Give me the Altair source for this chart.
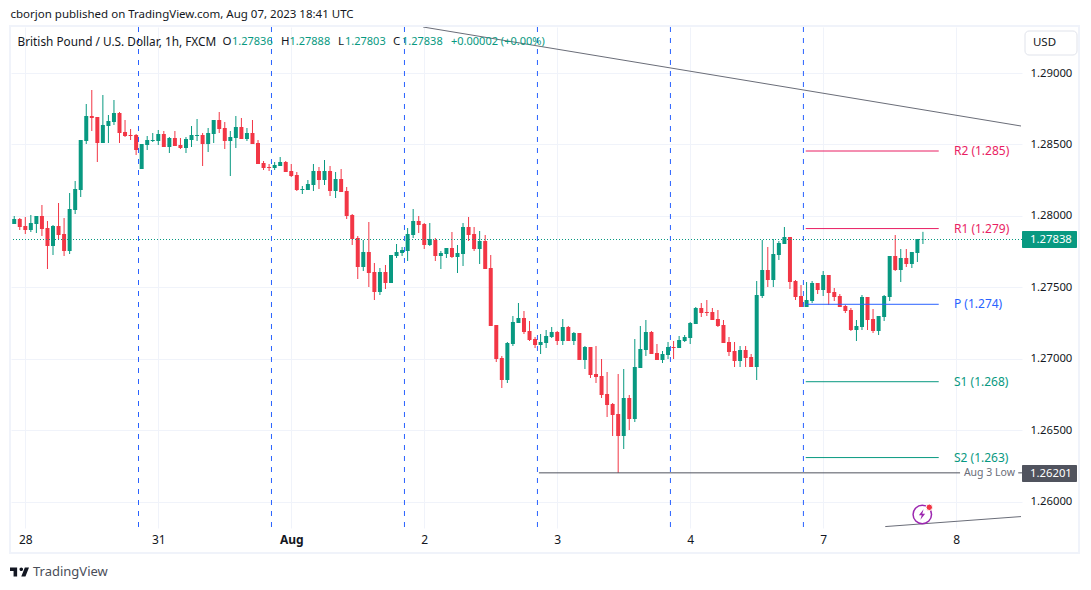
import altair as alt
import pandas as pd

# candle prices in 1e-5 USD, hourly, first candle is index -2 (22:00 before Jul 28)
opens = [127943,127978,127929,127901,127943,127999,127915,127789,127929,127873,
127754,128041,128181,128524,128699,128692,128510,128629,128657,128720,
128587,128566,128566,128328,128496,128524,128524,128573,128482,128545,
128496,128475,128531,128559,128566,128503,128573,128671,128615,128524,
128545,128622,128538,128580,128510,128370,128342,128335,128349,128377,
128314,128286,128181,128181,128216,128314,128251,128314,128174,128258,
128174,128006,127845,127642,127747,127607,127467,127607,127530,127719,
127740,127754,127866,127964,127943,127796,127831,127719,127733,127775,
127712,127733,127922,127873,127768,127824,127635,127236,127005,126851,
127103,127250,127285,127194,127138,127096,127110,127152,127187,127124,
127222,127124,127180,126991,127082,126893,126879,126753,126683,126613,
126459,126725,126578,126935,127061,127187,127040,126991,127026,127082,
127075,127124,127145,127243,127355,127327,127327,127278,127236,127117,
127054,126984,127061,127012,126942,127439,127621,127551,127726,127803,
127852,127544,127439,127362,127404,127530,127481,127586,127467,127439,
127369,127341,127201,127222,127432,127278,127194,127292,127432,127719,
127621,127705,127663,127740,127836]
highs = [127999,127985,127992,128006,127999,128076,127964,127936,128090,127985,
128160,128244,128531,128783,128881,128692,128846,128706,128811,128727,
128671,128608,128573,128503,128559,128580,128601,128594,128552,128594,
128545,128552,128629,128678,128580,128615,128671,128727,128657,128594,
128699,128685,128615,128671,128531,128384,128363,128377,128412,128384,
128363,128307,128209,128251,128363,128342,128391,128349,128307,128328,
128202,128013,127859,127831,127957,127670,127635,127656,127726,127803,
127782,127915,128048,127999,127950,127950,127845,127754,127775,127887,
127796,127950,127992,127922,127894,127866,127726,127236,127019,127117,
127299,127390,127334,127264,127152,127173,127201,127222,127194,127278,
127229,127187,127180,127089,127082,127089,126998,126907,126690,126893,
126928,126746,127138,127229,127271,127194,127103,127054,127117,127124,
127159,127166,127257,127362,127390,127411,127355,127341,127271,127152,
127117,127089,127089,127033,127544,127831,127782,127838,127824,127922,
127852,127551,127516,127537,127544,127530,127614,127586,127495,127453,
127376,127355,127271,127446,127432,127348,127299,127446,127719,127866,
127768,127768,127747,127838,127888]
lows = [127943,127901,127873,127887,127880,127859,127628,127726,127831,127719,
127733,128013,128132,128503,128594,128377,128510,128510,128636,128510,
128552,128531,128426,128328,128461,128517,128496,128482,128440,128489,
128468,128440,128482,128524,128349,128447,128510,128580,128468,128279,
128475,128538,128524,128503,128363,128321,128314,128321,128349,128307,
128272,128174,128153,128181,128174,128188,128216,128139,128125,128167,
127978,127796,127558,127614,127502,127411,127446,127488,127530,127705,
127719,127684,127845,127880,127768,127789,127684,127628,127705,127705,
127600,127649,127824,127754,127663,127628,127229,126977,126795,126830,
127089,127250,127173,127124,127075,127033,127075,127145,127096,127096,
127124,127096,126991,126928,126865,126830,126725,126592,126459,126201,
126368,126501,126557,126935,127019,127033,126991,126970,126998,126998,
127075,127117,127103,127243,127292,127299,127271,127222,127110,127019,
126942,126942,126942,126942,126851,127425,127502,127502,127691,127803,
127488,127411,127362,127362,127390,127453,127439,127376,127404,127362,
127320,127194,127124,127201,127201,127180,127166,127264,127404,127614,
127537,127642,127635,127677,127803]
closes = [127978,127922,127901,127950,127999,127908,127789,127929,127866,127754,
128048,128188,128531,128699,128685,128510,128636,128664,128720,128580,
128559,128559,128461,128503,128531,128531,128573,128482,128545,128489,
128475,128538,128566,128566,128503,128580,128671,128608,128524,128552,
128622,128538,128580,128503,128363,128335,128335,128356,128377,128307,
128279,128181,128188,128223,128314,128251,128314,128174,128258,128167,
127999,127838,127642,127747,127600,127467,127607,127530,127726,127747,
127761,127873,127964,127936,127796,127838,127719,127740,127775,127712,
127740,127922,127866,127768,127824,127628,127229,126998,126851,127110,
127257,127285,127187,127131,127096,127117,127159,127187,127124,127222,
127124,127180,126991,127082,126886,126872,126746,126676,126606,126459,
126725,126578,126942,127068,127187,127033,126991,127033,127082,127075,
127131,127152,127250,127355,127320,127320,127271,127229,127110,127047,
126984,127061,127005,126942,127446,127621,127551,127733,127810,127852,
127537,127432,127362,127411,127530,127481,127586,127460,127432,127362,
127334,127201,127229,127432,127271,127194,127299,127439,127719,127621,
127705,127663,127747,127838,127838]

x_ticks = [0, 24, 48, 72, 96, 120, 144, 168]
x_labels = ["28", "31", "Aug", "2", "3", "4", "7", "8"]
y_ticks = [1.26, 1.265, 1.27, 1.275, 1.28, 1.285, 1.29]
session_lines = [20.43, 44.43, 68.43, 92.43, 116.43, 140.43]

pivot_names = ["R2 (1.285)", "R1 (1.279)", "P (1.274)", "S1 (1.268)", "S2 (1.263)"]
pivot_prices = [1.28454, 1.27911, 1.27381, 1.26839, 1.26308]
pivot_colors = ["#e91e63", "#e91e63", "#2962ff", "#089981", "#089981"]

last_price = 1.27838
aug3_low = 1.26201

FONT = "Noto Sans"
TEAL = "#089981"
RED = "#f23645"
INK = "#131722"
FRAME = "#f0f3fa"

xs = alt.Scale(domain=[-2.581, 179.88], nice=False, zero=False, padding=0)
ys = alt.Scale(domain=[1.25815, 1.29322], nice=False, zero=False, padding=0)

label_map = "{" + ",".join(f"{t}:'{l}'" for t, l in zip(x_ticks, x_labels)) + "}"
x_axis = alt.Axis(
    values=x_ticks, grid=True, gridColor=FRAME, gridWidth=1, domain=False, ticks=False, title=None,
    labelExpr=f"{label_map}[datum.value]", labelFont=FONT, labelFontSize=12, labelColor=INK,
    labelPadding=6, labelFlush=False, labelOverlap=False,
    labelFontWeight=alt.expr("datum.value == 48 ? 'bold' : 'normal'"))
y_axis = alt.Axis(
    orient="right", values=y_ticks, format=".5f", grid=True, gridColor=FRAME, gridWidth=1, title=None,
    domain=False, ticks=False, labelFont=FONT, labelFontSize=11.3, labelColor=INK,
    labelPadding=8, labelOverlap=False, labelFlush=False)


def X(f, **k):
    return alt.X(f, type="quantitative", scale=xs, axis=x_axis, **k)


def Y(f, **k):
    return alt.Y(f, type="quantitative", scale=ys, axis=y_axis, **k)


df = pd.DataFrame({
    "i": list(range(-2, len(opens) - 2)),
    "o": [v / 1e5 for v in opens],
    "h": [v / 1e5 for v in highs],
    "l": [v / 1e5 for v in lows],
    "c": [v / 1e5 for v in closes],
})
df["dir"] = ["up" if c >= o else "down" for o, c in zip(opens, closes)]
colour = alt.Color("dir:N", scale=alt.Scale(domain=["up", "down"], range=[TEAL, RED]), legend=None)

wicks = alt.Chart(df).mark_rule(strokeWidth=1).encode(x=X("i"), y=Y("l"), y2="h:Q", color=colour)
bodies = alt.Chart(df).mark_bar(size=4).encode(x=X("i"), y=Y("o"), y2="c:Q", color=colour)

price_line = alt.Chart(pd.DataFrame({"p": [last_price]})).mark_rule(
    color=TEAL, strokeDash=[1, 2], strokeWidth=1, yOffset=0.5).encode(y=Y("p"))

sessions = alt.Chart(pd.DataFrame({"i": session_lines})).mark_rule(
    color="#2962ff", strokeDash=[5, 6], strokeWidth=1).encode(x=X("i"))

piv = pd.DataFrame({
    "name": pivot_names, "p": pivot_prices, "a": [140.85] * 5, "b": [164.85] * 5,
    "t": [167.6] * 5, "col": pivot_colors,
})
col_enc = alt.Color("col:N", scale=None)
pivot_rules = alt.Chart(piv).mark_rule(strokeWidth=1).encode(x=X("a"), x2="b:Q", y=Y("p"), color=col_enc)
pivot_text = alt.Chart(piv).mark_text(align="left", baseline="middle", font=FONT, fontSize=12).encode(
    x=X("t"), y=Y("p"), text="name:N", color=col_enc)

trend_a = alt.Chart(pd.DataFrame({"i": [71.8, 179.7], "p": [1.29322, 1.28629]})).mark_line(
    color="#6a6d78", strokeWidth=1, clip=True).encode(x=X("i"), y=Y("p"))
trend_b = alt.Chart(pd.DataFrame({"i": [155.2, 179.7], "p": [1.25825, 1.25895]})).mark_line(
    color="#6a6d78", strokeWidth=1).encode(x=X("i"), y=Y("p"))

low_rules = alt.Chart(pd.DataFrame({"a": [92.7, 179.2], "b": [168.7, 179.88], "p": [aug3_low] * 2})).mark_rule(
    color="#50535e", strokeWidth=1).encode(x=X("a"), x2="b:Q", y=Y("p"))
low_text = alt.Chart(pd.DataFrame({"t": ["Aug 3 Low"], "x": [174.0], "p": [aug3_low]})).mark_text(
    align="center", baseline="middle", font=FONT, fontSize=10.5, color="#6a6d78").encode(
    x=X("x"), y=Y("p"), text="t:N")


def px(v):
    return alt.value(v - 11)


def py(v):
    return alt.value(v - 27)


one = pd.DataFrame({"k": [0]})


def tag(y0, y1, fill):
    return alt.Chart(one).mark_rect(fill=fill, cornerRadius=1).encode(
        x=px(1022), x2=px(1077), y=py(y0), y2=py(y1))


def label(t, x, y, color=INK, size=12, align="left", weight="normal", font=FONT):
    return alt.Chart(pd.DataFrame({"t": [t]})).mark_text(
        align=align, baseline="middle", font=font, fontSize=size, color=color, fontWeight=weight
    ).encode(x=px(x), y=py(y), text="t:N")


frame = alt.Chart(one).mark_rect(fill="transparent", stroke=FRAME, strokeWidth=2).encode(
    x=px(10), x2=px(1079), y=py(26), y2=py(553))
usd_box = alt.Chart(one).mark_rect(fill="white", stroke="#e0e3eb", strokeWidth=1, cornerRadius=4).encode(
    x=px(1025), x2=px(1077), y=py(31), y2=py(55))

LOGO = ("M-0.25 -0.469H-1V-0.094H-0.625V0.469H-0.25Z"
        "M0.625 0.469H0.1875L0.5625 -0.469H1Z"
        "M0.375 -0.281A0.1875 0.1875 0 1 0 0 -0.281A0.1875 0.1875 0 1 0 0.375 -0.281Z")
BOLT = "M0.3 -1L-0.6 0.15H-0.05L-0.3 1L0.6 -0.15H0.05Z"
logo = alt.Chart(one).mark_point(shape=LOGO, size=361, filled=True, color=INK, opacity=1).encode(
    x=px(19.5), y=py(572))
ring = alt.Chart(one).mark_point(shape="circle", size=340, filled=True, fill="white", stroke="#9c27b0",
                                 strokeWidth=1.5, opacity=1).encode(x=px(922.3), y=py(514.5))
bolt = alt.Chart(one).mark_point(shape=BOLT, size=110, filled=True, color="#9c27b0", opacity=1).encode(
    x=px(922), y=py(514.5))
dot = alt.Chart(one).mark_point(shape="circle", size=42, filled=True, fill="#f23645", stroke="white",
                                strokeWidth=1, opacity=1).encode(x=px(929.3), y=py(507.3))

chart = alt.layer(
    wicks, bodies, price_line, sessions, trend_a, trend_b, pivot_rules, pivot_text, low_rules, low_text,
    ring, bolt, dot, frame, usd_box,
    tag(231, 248, TEAL), tag(465, 482, "#50535e"),
    label("1.27838", 1030, 239.5, "white", 11.3),
    label("1.26201", 1030, 473.5, "white", 11.3),
    label("USD", 1044.5, 43, INK, 11.5, "center"),
    label("cborjon published on TradingView.com, Aug 07, 2023 18:41 UTC", 10.5, 15, INK, 11.5),
    label("British Pound / U.S. Dollar, 1h, FXCM", 17.5, 42, INK, 11.8),
    label("O", 222.5, 42, INK, 11.5), label("1.27836", 232, 42, TEAL, 11),
    label("H", 281, 42, INK, 11.5), label("1.27888", 289.5, 42, TEAL, 11),
    label("L", 338, 42, INK, 11.5), label("1.27803", 345, 42, TEAL, 11),
    label("C", 393, 42, INK, 11.5), label("1.27838", 402, 42, TEAL, 11),
    label("+0.00002 (+0.00%)", 451, 42, TEAL, 11),
    logo,
    label("TradingView", 33, 572, "#4a4e59", 13),
).properties(
    width=1011, height=501,
    autosize=alt.AutoSizeParams(type="none"),
    padding={"left": 3, "top": 19, "right": 61, "bottom": 55},
    background="white",
).configure_view(stroke=None)

chart.save("out.html", embed_options={"renderer": "svg", "actions": False})
